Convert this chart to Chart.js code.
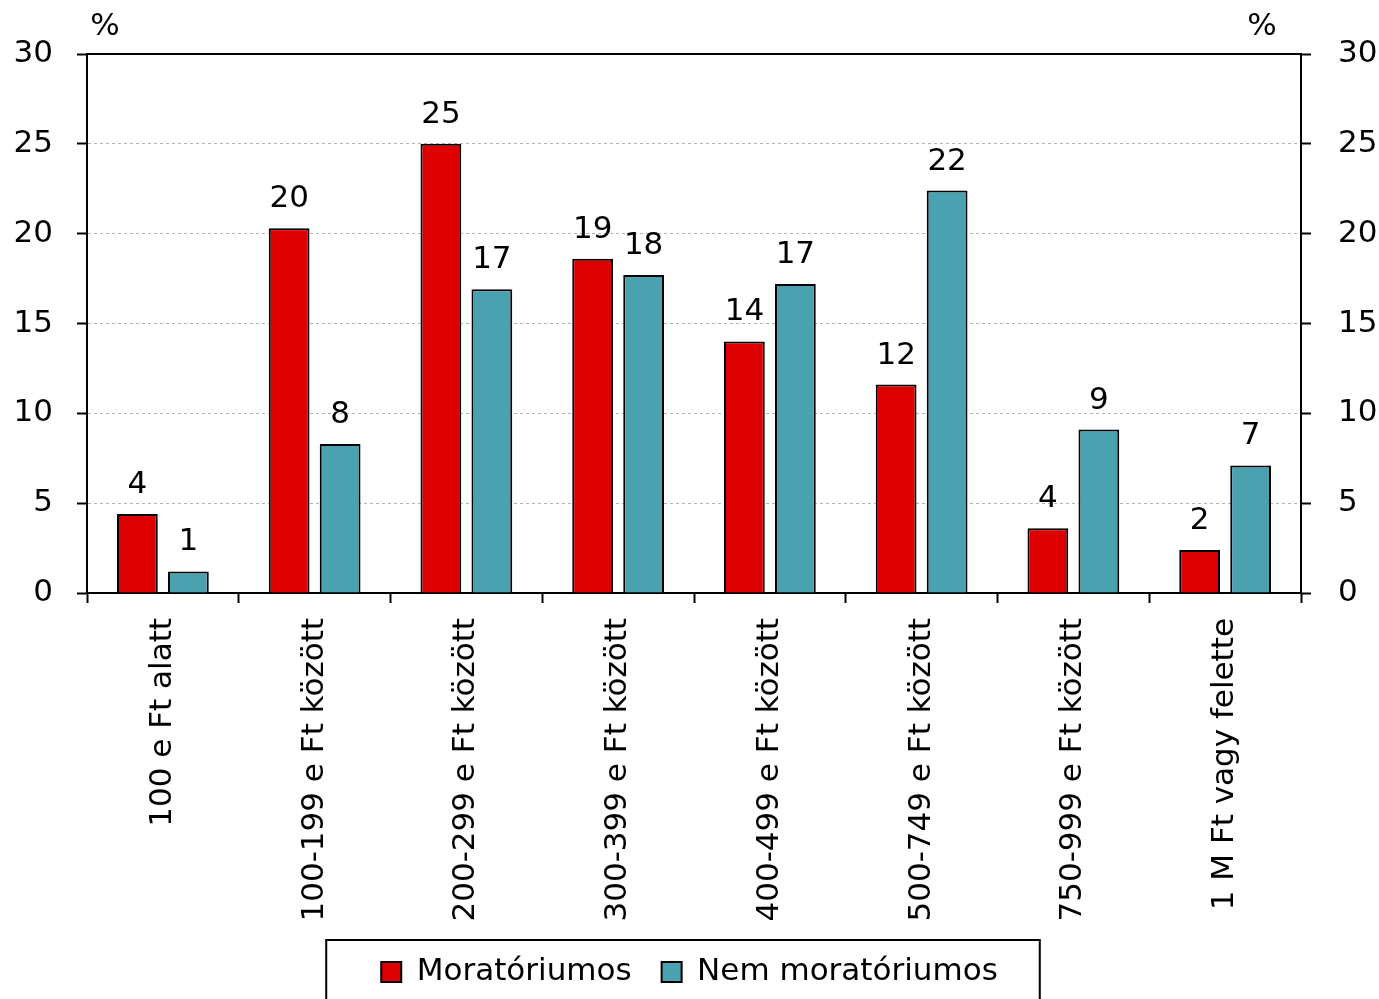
<!DOCTYPE html>
<html lang="hu">
<head>
  <meta charset="UTF-8" />
  <title>Moratóriumos és nem moratóriumos adósok</title>
  <script src="https://cdn.jsdelivr.net/npm/chart.js"></script>
  <style>
    html, body { margin: 0; padding: 0; background: #fff; }
    #wrap { width: 1379px; height: 999px; }
  </style>
</head>
<body>
  <div id="wrap">
    <canvas id="incomeChart" width="1379" height="999"></canvas>
  </div>

  <script>
    // data
    const categories = [
      '100 e Ft alatt', '100-199 e Ft között', '200-299 e Ft között', '300-399 e Ft között',
      '400-499 e Ft között', '500-749 e Ft között', '750-999 e Ft között', '1 M Ft vagy felette'
    ];
    const moratoriumos = [4.4, 20.3, 25.0, 18.6, 14.0, 11.6, 3.6, 2.4];
    const nemMoratoriumos = [1.2, 8.3, 16.9, 17.7, 17.2, 22.4, 9.1, 7.1];
    const seriesNames = ['Moratóriumos', 'Nem moratóriumos'];
    const yMin = 0, yMax = 30, yStep = 5;
    const unitLabel = '%';

    const FONT = 'DejaVu Sans';
    const fontSize = 31;

    // value labels above the bars
    const valueLabels = {
      id: 'valueLabels',
      afterDatasetsDraw(chart) {
        const ctx = chart.ctx;
        ctx.save();
        ctx.font = fontSize + 'px "' + FONT + '"';
        ctx.fillStyle = '#000';
        ctx.textAlign = 'center';
        ctx.textBaseline = 'alphabetic';
        chart.data.datasets.forEach((ds, i) => {
          chart.getDatasetMeta(i).data.forEach((bar, j) => {
            ctx.fillText(Math.round(ds.data[j]), bar.x, bar.y - 21);
          });
        });
        ctx.restore();
      }
    };

    // "%" above both axes, and a frame round the legend
    const extras = {
      id: 'extras',
      afterDraw(chart) {
        const ctx = chart.ctx;
        const area = chart.chartArea;
        ctx.save();
        ctx.font = fontSize + 'px "' + FONT + '"';
        ctx.fillStyle = '#000';
        ctx.textAlign = 'center';
        ctx.textBaseline = 'middle';
        ctx.fillText(unitLabel, area.left + 18, area.top - 27);
        ctx.fillText(unitLabel, area.right - 39, area.top - 27);

        const boxes = chart.legend.legendHitBoxes;
        if (boxes.length) {
          const first = boxes[0], last = boxes[boxes.length - 1];
          const left = first.left - 55;
          const right = last.left + last.width + 42;
          const top = first.top + first.height / 2 - 32;
          ctx.strokeStyle = '#000';
          ctx.lineWidth = 2;
          ctx.strokeRect(left, top, right - left, 100);
        }
        ctx.restore();
      }
    };

    const ctx = document.getElementById('incomeChart').getContext('2d');
    const incomeChart = new Chart(ctx, {
      type: 'bar',
      data: {
        labels: categories,
        datasets: [{
          label: seriesNames[0],
          data: moratoriumos,
          backgroundColor: '#dc0000',
          borderColor: '#000',
          borderWidth: 2,
          borderSkipped: 'bottom'
        }, {
          label: seriesNames[1],
          data: nemMoratoriumos,
          backgroundColor: '#4aa1b0',
          borderColor: '#000',
          borderWidth: 2,
          borderSkipped: 'bottom'
        }]
      },
      options: {
        responsive: false,
        animation: false,
        categoryPercentage: 0.672,
        barPercentage: 0.8,
        layout: { padding: { top: 54, left: 0, right: 0, bottom: 1.5 } },
        plugins: {
          tooltip: { enabled: false },
          legend: {
            position: 'bottom',
            labels: {
              color: '#000',
              font: { family: FONT, size: fontSize },
              boxWidth: 20,
              boxHeight: 20,
              padding: 30
            }
          }
        },
        scales: {
          x: {
            position: 'bottom',
            offset: true,
            grid: {
              offset: true,
              drawOnChartArea: false,
              tickLength: 10,
              tickColor: '#000',
              tickWidth: 2
            },
            border: { color: '#000', width: 2 },
            ticks: {
              color: '#000',
              font: { family: FONT, size: fontSize },
              minRotation: 90,
              maxRotation: 90,
              autoSkip: false,
              padding: 15
            },
            afterFit(scale) { scale.height = 333.5; }
          },
          xTop: {
            position: 'top',
            type: 'category',
            labels: categories,
            grid: { display: false },
            ticks: { display: false },
            border: { display: true, color: '#000', width: 2 },
            afterFit(scale) { scale.height = 0; }
          },
          y: {
            position: 'left',
            min: yMin,
            max: yMax,
            ticks: {
              stepSize: yStep,
              color: '#000',
              font: { family: FONT, size: fontSize },
              padding: 24
            },
            grid: {
              color: c => (c.tick && c.tick.value === yMax) ? 'rgba(0,0,0,0)' : '#b4b4b4',
              lineWidth: 1,
              tickLength: 10,
              tickColor: '#000',
              tickWidth: 2
            },
            border: { color: '#000', width: 2, dash: [3, 3] },
            afterFit(scale) { scale.width = 87; }
          },
          y2: {
            position: 'right',
            min: yMin,
            max: yMax,
            ticks: {
              stepSize: yStep,
              color: '#000',
              font: { family: FONT, size: fontSize },
              padding: 27
            },
            grid: {
              drawOnChartArea: false,
              tickLength: 10,
              tickColor: '#000',
              tickWidth: 2
            },
            border: { color: '#000', width: 2 },
            afterFit(scale) { scale.width = 78; }
          }
        }
      },
      plugins: [valueLabels, extras]
    });
  </script>
</body>
</html>
